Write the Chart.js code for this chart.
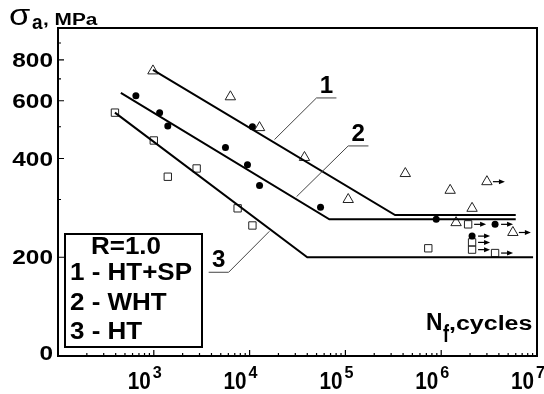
<!DOCTYPE html>
<html>
<head>
<meta charset="utf-8">
<script src="https://cdn.jsdelivr.net/npm/chart.js@4.4.1/dist/chart.umd.min.js"></script>
<style>
body { margin: 0; background: #fff; }
</style>
</head>
<body>
<canvas id="fatigue" width="544" height="394"></canvas>
<script>
// 1 - HT+SP (open triangles)
const htspN = [980, 6300, 12700, 37400, 107000, 422000, 1240000, 2100000, 1430000];
const htspS = [740, 617, 497, 403, 300, 360, 320, 282, 255];
const htspRunN = [3000000, 5600000];
const htspRunS = [340, 238];
// 2 - WHT (filled dots)
const whtN = [650, 1150, 1400, 5600, 10700, 9500, 12700, 55000, 887000];
const whtS = [621, 552, 503, 432, 500, 383, 331, 284, 261];
const whtRunN = [3650000, 2100000];
const whtRunS = [252, 232];
// 3 - HT (open squares)
const htN = [393, 1000, 2800, 1400, 7500, 10700, 733000];
const htS = [552, 454, 373, 352, 282, 250, 213];
const htRunN = [1910000, 2100000, 2100000, 3650000];
const htRunS = [252, 222, 211, 206];
// fitted curves: start, knee, end
const fit1N = [980, 330000, 6000000];
const fit1S = [745, 269, 269];
const fit2N = [453, 68000, 6000000];
const fit2S = [634, 261, 261];
const fit3N = [393, 40000, 9100000];
const fit3S = [552, 200, 200];

const xTicks = [1e3, 1e4, 1e5, 1e6, 1e7];
const xExp = ['3', '4', '5', '6', '7'];
const yTicks = [100, 200, 400, 600, 800];
const yLabels = ['0', '200', '400', '600', '800'];
const legendLines = ['1 - HT+SP', '2 - WHT', '3 - HT'];

// curve labels: [text, underline start N, underline end N, underline S, leader end N, leader end S]
const curveTags = [
    ['1', 49900, 80600, 612, 18200, 457],
    ['2', 107000, 174000, 437, 30900, 306],
    ['3', 6040, 3740, 180, 16100, 240]
];

const pts = (n, s) => n.map((v, i) => ({ x: v, y: s[i] }));
const FONT = '"Liberation Sans", Arial, sans-serif';

function txt(ctx, s, x, y, font, sx, align) {
    ctx.save();
    ctx.font = font;
    ctx.translate(x, y);
    ctx.scale(sx, 1);
    ctx.textAlign = align || 'left';
    ctx.textBaseline = 'alphabetic';
    ctx.fillStyle = '#000';
    ctx.fillText(s, 0, 0);
    ctx.restore();
}

const decor = {
    id: 'decor',
    afterDatasetsDraw(chart) {
        const ctx = chart.ctx;
        const a = chart.chartArea;
        const xs = chart.scales.x, ys = chart.scales.y;

        // run-out arrows
        chart.data.datasets.forEach((ds, i) => {
            if (!ds.runout) return;
            chart.getDatasetMeta(i).data.forEach(p => {
                const x0 = p.x + 6, x1 = p.x + 18;
                ctx.save();
                ctx.strokeStyle = '#000';
                ctx.fillStyle = '#000';
                ctx.lineWidth = 1.2;
                ctx.beginPath();
                ctx.moveTo(x0, p.y);
                ctx.lineTo(x1 - 4, p.y);
                ctx.stroke();
                ctx.beginPath();
                ctx.moveTo(x1, p.y);
                ctx.lineTo(x1 - 6, p.y - 2.5);
                ctx.lineTo(x1 - 6, p.y + 2.5);
                ctx.closePath();
                ctx.fill();
                ctx.restore();
            });
        });

        // curve labels with leaders
        curveTags.forEach(t => {
            const u0 = xs.getPixelForValue(t[1]);
            const u1 = xs.getPixelForValue(t[2]);
            const uy = ys.getPixelForValue(t[3]);
            const lx = xs.getPixelForValue(t[4]);
            const ly = ys.getPixelForValue(t[5]);
            ctx.save();
            ctx.strokeStyle = '#444';
            ctx.lineWidth = 1;
            ctx.beginPath();
            ctx.moveTo(u1, uy);
            ctx.lineTo(u0, uy);
            ctx.lineTo(lx, ly);
            ctx.stroke();
            ctx.restore();
            txt(ctx, t[0], (u0 + u1) / 2, uy - 5, 'bold 23px ' + FONT, 1.05, 'center');
        });

        // frame
        ctx.save();
        ctx.strokeStyle = '#000';
        ctx.lineWidth = 2;
        ctx.strokeRect(a.left, a.top, a.right - a.left, a.bottom - a.top);

        // inward ticks
        ctx.lineWidth = 1.2;
        ctx.beginPath();
        for (let d = 2; d < 7; d++) {
            for (let m = 1; m < 10; m++) {
                const px = xs.getPixelForValue(m * Math.pow(10, d));
                const len = m === 1 ? 6 : 3;
                ctx.moveTo(px, a.bottom);
                ctx.lineTo(px, a.bottom - len);
            }
        }
        for (let v = 200; v <= 900; v += 100) {
            const py = ys.getPixelForValue(v);
            const len = yTicks.includes(v) ? 6 : 3;
            ctx.moveTo(a.left, py);
            ctx.lineTo(a.left + len, py);
        }
        ctx.stroke();
        ctx.restore();

        // tick labels
        yTicks.forEach((v, i) => {
            const py = ys.getPixelForValue(v);
            txt(ctx, yLabels[i], a.left - 5, Math.min(py + 7, 360), 'bold 20px ' + FONT, 1.22, 'right');
        });
        xTicks.forEach((v, i) => {
            const px = xs.getPixelForValue(v);
            txt(ctx, '10', px - 3, 389, 'bold 23px ' + FONT, 0.9, 'right');
            txt(ctx, xExp[i], px - 1, 378, 'bold 17px ' + FONT, 0.95, 'left');
        });

        // axis titles
        txt(ctx, '\u03C3', 9, 25, '30px ' + FONT, 1.15, 'left');
        txt(ctx, 'a', 32, 29, 'bold 20px ' + FONT, 0.95, 'left');
        txt(ctx, ', MPa', 43, 25, 'bold 16px ' + FONT, 1.3, 'left');
        txt(ctx, 'N', 426, 330, 'bold 24px ' + FONT, 0.95, 'left');
        txt(ctx, 'f', 443, 342, 'bold 24px ' + FONT, 0.75, 'left');
        txt(ctx, ',cycles', 449, 330, 'bold 20px ' + FONT, 1.25, 'left');

        // legend box
        ctx.save();
        ctx.fillStyle = '#fff';
        ctx.fillRect(65, 234, 137, 113);
        ctx.strokeStyle = '#000';
        ctx.lineWidth = 2;
        ctx.strokeRect(65, 234, 137, 113);
        ctx.restore();
        txt(ctx, 'R=1.0', 126, 254, 'bold 23px ' + FONT, 1.13, 'center');
        [280, 310, 339].forEach((b, i) => {
            txt(ctx, legendLines[i], 70, b, 'bold 23px ' + FONT, 1.13, 'left');
        });
    }
};

const tri = { pointStyle: 'triangle', pointRadius: 6, pointBorderWidth: 1, borderColor: '#222', backgroundColor: 'rgba(0,0,0,0)' };
const dot = { pointStyle: 'circle', pointRadius: 3.5, pointBorderWidth: 0, borderColor: '#000', backgroundColor: '#000' };
const sq = { pointStyle: 'rect', pointRadius: 5.2, pointBorderWidth: 1, borderColor: '#222', backgroundColor: 'rgba(0,0,0,0)' };
const fit = { showLine: true, pointRadius: 0, borderColor: '#000', borderWidth: 2, tension: 0 };

const cFatigue = document.getElementById('fatigue');
const fatigue = new Chart(cFatigue, {
    type: 'scatter',
    data: {
        datasets: [
            Object.assign({ label: 'fit 1', data: pts(fit1N, fit1S) }, fit),
            Object.assign({ label: 'fit 2', data: pts(fit2N, fit2S) }, fit),
            Object.assign({ label: 'fit 3', data: pts(fit3N, fit3S) }, fit),
            Object.assign({ label: 'HT+SP', data: pts(htspN, htspS) }, tri),
            Object.assign({ label: 'HT+SP run-out', data: pts(htspRunN, htspRunS), runout: true }, tri),
            Object.assign({ label: 'WHT', data: pts(whtN, whtS) }, dot),
            Object.assign({ label: 'WHT run-out', data: pts(whtRunN, whtRunS), runout: true }, dot),
            Object.assign({ label: 'HT', data: pts(htN, htS) }, sq),
            Object.assign({ label: 'HT run-out', data: pts(htRunN, htRunS), runout: true }, sq)
        ]
    },
    options: {
        responsive: false,
        animation: false,
        layout: { padding: { left: 58, right: 6, top: 28, bottom: 38 } },
        plugins: { legend: { display: false }, tooltip: { enabled: false } },
        scales: {
            x: { type: 'logarithmic', min: 100, max: 1e7, display: false },
            y: { type: 'logarithmic', min: 100, max: 1000, display: false }
        }
    },
    plugins: [decor]
});
</script>
</body>
</html>
